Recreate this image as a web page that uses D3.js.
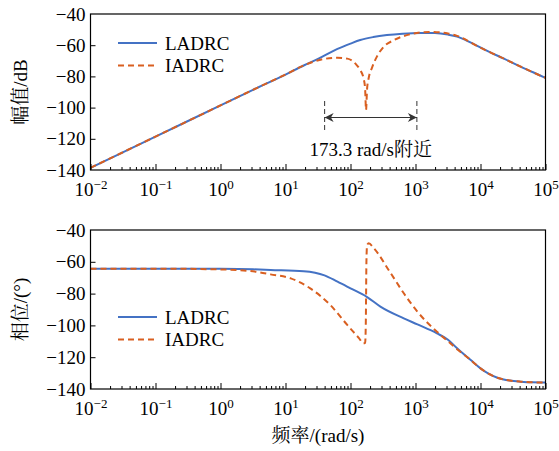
<!DOCTYPE html>
<html>
<head>
<meta charset="utf-8">
<script src="https://cdn.jsdelivr.net/npm/d3@7"></script>
<style>
  body { margin: 0; background: #fff; }
</style>
</head>
<body>
<div id="container"></div>
<script>
// frequency points are given as log10(w), w in rad/s
var magLadrcLogW = [-2, -1, 0, 0.5, 1, 1.28, 1.5, 1.8, 2, 2.15, 2.35, 2.56, 2.8, 3.08, 3.3, 3.5, 3.64, 3.82, 3.95, 4.15, 4.36, 4.6, 4.8, 5];
var magLadrc = [-138.6, -118.6, -98.6, -88.6, -78.8, -73, -68.8, -62.4, -59, -56.7, -54.8, -53.5, -52.6, -52.1, -52.2, -53.2, -54.5, -57.7, -60.5, -64.6, -68.6, -73.4, -77.2, -81];

var magIadrcLogW = [-2, -1, 0, 0.5, 1, 1.28, 1.54, 1.8, 1.95, 2.08, 2.15, 2.2, 2.225, 2.239, 2.255, 2.28, 2.33, 2.41, 2.5, 2.67, 2.92, 3.23, 3.5, 3.64, 3.82, 3.95, 4.15, 4.36, 4.6, 4.8, 5];
var magIadrc = [-138.6, -118.6, -98.6, -88.6, -78.8, -73, -69.3, -68, -68.6, -72, -76, -81, -88, -101.5, -88, -81, -74.5, -67, -61.5, -56.7, -53, -51.5, -52.5, -54, -57.5, -60.5, -64.6, -68.6, -73.4, -77.2, -81];

var phLadrcLogW = [-2, -1, 0, 0.5, 0.77, 1.28, 1.6, 1.8, 2, 2.25, 2.46, 2.82, 3.03, 3.33, 3.5, 3.64, 3.85, 4, 4.13, 4.26, 4.45, 4.62, 4.8, 5];
var phLadrc = [-64.3, -64.3, -64.4, -64.7, -65.1, -65.9, -68.5, -72.5, -76.7, -82, -88.2, -95.6, -99.4, -105, -109, -114.4, -121.8, -127, -130.5, -132.9, -134.7, -135.4, -135.8, -135.9];

var phIadrcLogW = [-2, -1, 0, 0.5, 0.77, 1.08, 1.38, 1.69, 1.95, 2.13, 2.2, 2.225, 2.235, 2.245, 2.255, 2.28, 2.36, 2.6, 2.82, 3.03, 3.33, 3.5, 3.64, 3.85, 4, 4.13, 4.26, 4.45, 4.62, 4.8, 5];
var phIadrc = [-64.3, -64.3, -64.8, -66, -67.9, -70.4, -76.7, -87.2, -99.7, -108, -111.3, -111, -100, -60, -49.5, -48.4, -51.5, -66, -79.8, -91.4, -104, -110, -115, -121.8, -127, -130.5, -132.9, -134.7, -135.4, -135.8, -135.9];

var xTickExp = [-2, -1, 0, 1, 2, 3, 4, 5];
var yTicks = [-140, -120, -100, -80, -60, -40];
var seriesNames = ['LADRC', 'IADRC'];
var notchSpan = [40, 1050];   // arrow ends, rad/s
var notchLabel = '173.3 rad/s附近';

var width = 559, height = 451;
var blue = '#4472c4', orange = '#d95f20';
var serif = "'Liberation Serif', 'Noto Serif CJK SC'";

var svg = d3.select('#container')
    .append('svg')
    .attr('width', width)
    .attr('height', height);

var x = d3.scaleLog()
    .domain([1e-2, 1e5])
    .range([90.5, 545.5]);

var minorTicks = [];
xTickExp.slice(0, -1).forEach(function(e) {
    for (var k = 2; k < 10; k++) minorTicks.push(k * Math.pow(10, e));
});

function zip(lw, v) {
    return lw.map(function(e, i) { return { w: Math.pow(10, e), v: v[i] }; });
}

function panel(top, bottom, ladrc, iadrc, yTitle, legendY) {
    var y = d3.scaleLinear().domain([-140, -40]).range([bottom, top]);
    var g = svg.append('g');

    var line = d3.line()
        .x(function(d) { return x(d.w); })
        .y(function(d) { return y(d.v); })
        .curve(d3.curveMonotoneX);

    g.append('path')
        .datum(ladrc)
        .attr('d', line)
        .attr('fill', 'none')
        .attr('stroke', blue)
        .attr('stroke-width', 2);
    g.append('path')
        .datum(iadrc)
        .attr('d', line)
        .attr('fill', 'none')
        .attr('stroke', orange)
        .attr('stroke-width', 2)
        .attr('stroke-dasharray', '6,4');

    // frame
    g.append('rect')
        .attr('x', x.range()[0])
        .attr('y', top)
        .attr('width', x.range()[1] - x.range()[0])
        .attr('height', bottom - top)
        .attr('fill', 'none')
        .attr('stroke', '#000')
        .attr('stroke-width', 1.2);

    // bottom axis, ticks inward
    var xa = g.append('g')
        .attr('transform', 'translate(0,' + bottom + ')')
        .call(d3.axisBottom(x)
            .tickValues(xTickExp.map(function(e) { return Math.pow(10, e); }))
            .tickSizeInner(-6)
            .tickSizeOuter(0)
            .tickPadding(13));
    xa.select('.domain').remove();
    xa.selectAll('text')
        .style('font-size', '19px')
        .attr('dy', '0.71em')
        .text(null)
        .each(function(d, i) {
            var t = d3.select(this);
            t.append('tspan').text('10');
            t.append('tspan')
                .attr('dy', '-0.55em')
                .style('font-size', '13px')
                .text(String(xTickExp[i]).replace('-', '\u2212'));
        });

    var xm = g.append('g')
        .attr('transform', 'translate(0,' + bottom + ')')
        .call(d3.axisBottom(x)
            .tickValues(minorTicks)
            .tickSizeInner(-3)
            .tickSizeOuter(0)
            .tickFormat(''));
    xm.select('.domain').remove();

    // left axis, ticks inward
    var ya = g.append('g')
        .attr('transform', 'translate(' + x.range()[0] + ',0)')
        .call(d3.axisLeft(y)
            .tickValues(yTicks)
            .tickSizeInner(-5)
            .tickSizeOuter(0)
            .tickPadding(5)
            .tickFormat(function(d) { return String(d).replace('-', '\u2212'); }));
    ya.select('.domain').remove();
    ya.selectAll('text').style('font-size', '19px');
    ya.selectAll('.tick').filter(function(d) { return d === -40 || d === -140; })
        .select('line').remove();

    g.append('text')
        .attr('transform', 'translate(27,' + ((top + bottom) / 2) + ') rotate(-90)')
        .attr('text-anchor', 'middle')
        .style('font-size', '19px')
        .text(yTitle);

    // legend
    seriesNames.forEach(function(name, i) {
        var ly = legendY + i * 22.5;
        g.append('line')
            .attr('x1', 118).attr('x2', 157)
            .attr('y1', ly).attr('y2', ly)
            .attr('stroke', i === 0 ? blue : orange)
            .attr('stroke-width', 2)
            .attr('stroke-dasharray', i === 0 ? null : '6,4');
        g.append('text')
            .attr('x', 165)
            .attr('y', ly)
            .attr('dy', '0.35em')
            .style('font-size', '19px')
            .text(name);
    });
    return y;
}

panel(14, 170, zip(magLadrcLogW, magLadrc), zip(magIadrcLogW, magIadrc), '幅值/dB', 43);
panel(230, 389, zip(phLadrcLogW, phLadrc), zip(phIadrcLogW, phIadrc), '相位/(°)', 317);

// annotation at the notch
var ann = svg.append('g');
notchSpan.forEach(function(w) {
    ann.append('line')
        .attr('x1', x(w)).attr('x2', x(w))
        .attr('y1', 101).attr('y2', 132)
        .attr('stroke', '#333')
        .attr('stroke-width', 1)
        .attr('stroke-dasharray', '5,3');
});
var defs = svg.append('defs');
defs.append('marker')
    .attr('id', 'arr')
    .attr('viewBox', '0 0 10 10')
    .attr('refX', 10).attr('refY', 5)
    .attr('markerWidth', 11).attr('markerHeight', 9)
    .attr('markerUnits', 'userSpaceOnUse')
    .attr('orient', 'auto-start-reverse')
    .append('path')
    .attr('d', 'M0,0L10,5L0,10L3,5Z')
    .attr('fill', '#333');
ann.append('line')
    .attr('x1', x(notchSpan[0])).attr('x2', x(notchSpan[1]))
    .attr('y1', 117.5).attr('y2', 117.5)
    .attr('stroke', '#333')
    .attr('stroke-width', 1.2)
    .attr('marker-start', 'url(#arr)')
    .attr('marker-end', 'url(#arr)');
ann.append('text')
    .attr('x', (x(notchSpan[0]) + x(notchSpan[1])) / 2)
    .attr('y', 156)
    .attr('text-anchor', 'middle')
    .style('font-size', '19px')
    .text(notchLabel);

svg.append('text')
    .attr('x', 318)
    .attr('y', 442)
    .attr('text-anchor', 'middle')
    .style('font-size', '19px')
    .text('频率/(rad/s)');

// axis groups carry their own font-family attribute; set the serif face on every label
svg.selectAll('text').style('font-family', serif).attr('fill', '#000');
</script>
</body>
</html>
